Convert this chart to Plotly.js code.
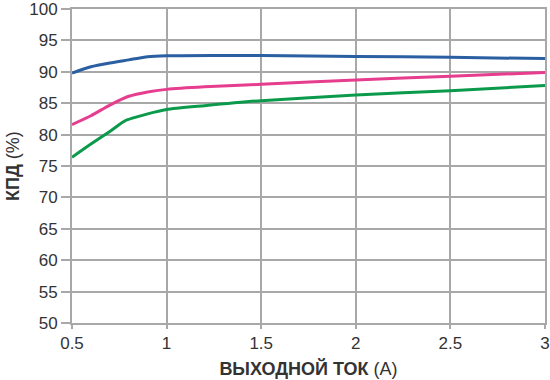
<!DOCTYPE html>
<html><head><meta charset="utf-8">
<script src="https://cdn.plot.ly/plotly-3.0.1.min.js"></script>
<style>html,body{margin:0;padding:0;background:#fff}#chart{width:550px;height:380px}</style>
</head><body><div id="chart"></div>
<script>
const blueX = [0.5, 0.6, 0.7, 0.8, 0.9, 1.0, 1.25, 1.5, 2.0, 2.5, 3.0];
const blueY = [89.8, 90.8, 91.4, 91.9, 92.4, 92.55, 92.6, 92.6, 92.45, 92.3, 92.1];
const pinkX = [0.5, 0.6, 0.7, 0.8, 0.9, 1.0, 1.2, 1.5, 2.0, 2.5, 3.0];
const pinkY = [81.6, 83.0, 84.7, 86.1, 86.8, 87.2, 87.6, 88.0, 88.7, 89.3, 89.9];
const greenX = [0.5, 0.6, 0.7, 0.78, 0.9, 1.0, 1.2, 1.5, 2.0, 2.5, 3.0];
const greenY = [76.4, 78.5, 80.5, 82.2, 83.3, 84.0, 84.6, 85.4, 86.3, 87.0, 87.8];
const xTicks = [0.5, 1, 1.5, 2, 2.5, 3];
const xTickText = ['0.5', '1', '1.5', '2', '2.5', '3'];
const yTicks = [50, 55, 60, 65, 70, 75, 80, 85, 90, 95, 100];

const mk = (x, y, c) => ({x, y, type: 'scatter', mode: 'lines', line: {color: c, width: 3, shape: 'spline', smoothing: 0.6}, hoverinfo: 'skip'});
const data = [mk(greenX, greenY, '#0b9a4c'), mk(pinkX, pinkY, '#e63d8f'), mk(blueX, blueY, '#2a5fa2')];
const ff = 'Liberation Sans, Arial, sans-serif';
const font = {family: ff, size: 17, color: '#333'};
const tfont = {family: ff, size: 18, color: '#333'};
const layout = {
  width: 550, height: 380,
  margin: {l: 72, r: 5, t: 9, b: 57},
  paper_bgcolor: '#fff', plot_bgcolor: '#fff',
  showlegend: false,
  font: font,
  xaxis: {
    range: [0.5, 3], tickvals: xTicks, ticktext: xTickText,
    showgrid: true, gridcolor: '#a8a8a8', gridwidth: 2,
    showline: true, linecolor: '#a8a8a8', linewidth: 2, mirror: true,
    ticks: 'outside', ticklen: 4, tickwidth: 2, tickcolor: '#a8a8a8',
    zeroline: false, tickfont: font, ticklabeloverflow: 'allow',
    title: {text: '<b>ВЫХОДНОЙ ТОК</b> (A)', font: tfont, standoff: 10}
  },
  yaxis: {
    range: [50, 100], tickvals: yTicks,
    showgrid: true, gridcolor: '#a8a8a8', gridwidth: 2,
    showline: true, linecolor: '#a8a8a8', linewidth: 2, mirror: true,
    ticks: 'outside', ticklen: 9, tickwidth: 2, tickcolor: '#a8a8a8',
    zeroline: false, tickfont: font, ticklabeloverflow: 'allow'
  },
  annotations: [{
    text: '<b>КПД</b> (%)', font: tfont, textangle: -90, showarrow: false,
    xref: 'paper', yref: 'paper', x: -59 / 473, y: 0.5, xanchor: 'center', yanchor: 'middle'
  }]
};
Plotly.newPlot('chart', data, layout, {staticPlot: true, displayModeBar: false});
</script></body></html>
